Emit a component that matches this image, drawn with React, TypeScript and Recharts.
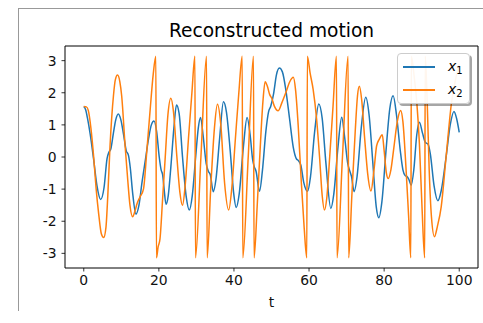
import { LineChart, Line, XAxis, YAxis, ReferenceLine } from "recharts";

// t ticks and angle ticks
const tTicks = [0, 20, 40, 60, 80, 100];
const yTicks = [-3, -2, -1, 0, 1, 2, 3];

// [t, x1]
const x1Trace: [number, number][] = [
  [0, 1.57], [0.5, 1.47], [1.0, 1.2], [1.7, 0.72], [2.6, -0.05], [3.5, -0.88], [4.5, -1.32],
  [5.4, -0.95], [6.2, -0.05], [6.7, 0.15], [7.2, 0.25], [7.9, 0.75], [8.5, 1.15], [9.2, 1.34],
  [9.9, 1.15], [10.6, 0.7], [11.3, 0.2], [11.9, 0.05], [12.4, -0.35], [13.0, -1.1], [13.9, -1.78],
  [14.7, -1.5], [15.5, -0.8], [16.4, -0.1], [17.3, 0.6], [18.0, 1.0], [18.7, 1.12], [19.4, 0.8],
  [20.1, 0.0], [20.6, -0.4], [21.0, -0.55], [21.4, -1.0], [21.9, -1.47], [22.5, -1.2], [23.2, -0.3],
  [24.0, 0.9], [24.7, 1.62], [25.4, 1.35], [26.3, 0.0], [27.3, -1.25], [28.1, -1.65], [28.9, -1.2],
  [29.8, 0.0], [30.5, 0.9], [31.1, 1.23], [31.8, 0.65], [32.6, -0.2], [33.2, -0.45], [33.7, -0.55],
  [34.5, -1.08], [35.2, -0.7], [36.2, 0.6], [37.2, 1.72], [38.0, 1.4], [39.0, 0.2], [39.9, -1.1],
  [40.6, -1.57], [41.4, -1.15], [42.5, 0.3], [43.5, 1.23], [44.3, 0.7], [45.0, -0.1], [45.4, -0.3],
  [45.9, -0.45], [46.8, -1.07], [47.6, -0.4], [48.5, 0.8], [49.2, 1.4], [49.8, 1.58], [50.6, 2.0],
  [51.3, 2.55], [52.1, 2.77], [52.9, 2.65], [53.8, 2.1], [54.8, 1.2], [55.8, 0.3], [56.6, -0.05],
  [57.2, -0.12], [57.8, -0.25], [58.6, -0.8], [59.6, -1.07], [60.4, -0.6], [61.5, 0.8], [62.6, 1.65],
  [63.5, 1.2], [64.5, -0.2], [65.8, -1.6], [66.6, -1.15], [67.7, 0.3], [68.7, 1.24], [69.5, 0.6],
  [70.3, -0.2], [70.9, -0.45], [71.3, -0.6], [72.0, -1.08], [72.8, -0.6], [73.9, 0.9], [75.1, 1.86],
  [76.0, 1.3], [77.0, -0.2], [77.9, -1.55], [78.6, -1.89], [79.4, -1.4], [80.5, 0.2], [81.5, 1.5],
  [82.4, 1.91], [83.3, 1.3], [84.3, 0.2], [85.0, -0.4], [85.6, -0.58], [86.2, -0.62], [86.6, -0.7],
  [87.2, -0.88], [87.9, -0.4], [88.7, 0.7], [89.4, 1.08], [90.2, 0.75], [91.0, 0.45], [91.7, 0.4],
  [92.3, 0.1], [93.3, -0.9], [94.3, -1.36], [95.2, -1.05], [96.5, 0.0], [97.6, 1.0], [98.6, 1.42],
  [99.3, 1.2], [100, 0.77],
];

// [t, x2] — wrapped angle, jumps between +pi and -pi
const x2Trace: [number, number][] = [
  [0, 1.57], [0.7, 1.56], [1.2, 1.45], [1.9, 0.9], [2.6, 0.05], [3.3, -1.0], [4.0, -1.8], [4.7, -2.4],
  [5.3, -2.51], [5.9, -2.2], [6.4, -1.2], [7.0, 0.36], [7.9, 1.9], [8.4, 2.4], [9.0, 2.55], [9.6, 2.35],
  [10.1, 1.9], [11.0, 0.36], [11.7, -0.7], [12.3, -1.5], [13.0, -1.86], [13.6, -1.7], [14.2, -1.45],
  [15.0, -1.24], [15.9, -1.0], [16.8, 0.2], [17.7, 1.5], [18.5, 2.58], [19.2, 3.14], [19.35, -3.14],
  [19.8, -2.8], [20.3, -2.55], [21.0, -1.3], [21.7, 0.0], [22.4, 1.3], [23.2, 1.83], [23.9, 1.4],
  [24.8, 0.0], [25.6, -1.1], [26.3, -1.5], [27.0, -0.9], [27.9, 0.6], [28.8, 2.0], [29.6, 3.14],
  [29.75, -3.14], [31.2, 0.0], [32.7, 3.14], [32.85, -3.14], [33.8, -1.0], [34.8, 0.9], [35.6, 1.64],
  [36.5, 1.0], [37.5, -0.8], [38.6, -1.65], [39.4, -1.0], [40.4, 0.6], [41.3, 2.0], [42.2, 3.14],
  [42.35, -3.14], [43.8, 0.0], [45.2, 3.14], [45.35, -3.14], [46.2, -1.5], [47.0, 0.3], [47.7, 1.7],
  [48.3, 2.34], [48.9, 2.2], [49.5, 1.95], [50.1, 1.82], [50.7, 1.6], [51.8, 1.44], [52.8, 1.7],
  [53.8, 2.0], [54.9, 2.35], [55.8, 2.48], [56.4, 2.1], [57.1, 1.0], [57.9, -0.7], [58.7, -2.2],
  [59.4, -3.14], [59.55, 3.14], [60.3, 2.6], [61.1, 2.1], [62.0, 1.2], [62.8, 0.0], [63.5, -1.2],
  [64.1, -1.65], [64.7, -1.3], [65.5, 0.0], [66.4, 1.6], [67.3, 3.14], [67.45, -3.14], [68.9, 0.0],
  [70.4, 3.14], [70.55, -3.14], [71.4, -1.2], [72.3, 0.8], [72.9, 1.9], [73.4, 2.2], [74.0, 1.8],
  [74.8, 0.6], [75.6, -0.5], [76.5, -1.06], [77.3, -0.4], [78.0, 0.35], [78.7, 0.55], [79.5, 0.69],
  [80.0, 0.2], [80.6, -0.5], [81.1, -0.67], [81.8, -0.4], [82.6, 0.3], [83.5, 1.1], [84.4, 1.45],
  [85.0, 1.1], [85.8, -0.3], [86.5, -1.8], [87.1, -3.14], [87.25, 3.14], [88.0, 2.5], [88.7, 1.7],
  [89.4, 0.4], [90.1, -1.6], [90.8, -3.14], [90.95, 3.14], [91.5, 1.6], [92.0, -0.4], [92.6, -1.86],
  [93.4, -2.48], [94.2, -2.15], [95.2, -1.55], [96.5, 0.0], [97.9, 1.65], [99.0, 2.4], [100, 2.9],
];

const COLORS = {
  x1: "#1f77b4", // mpl blue
  x2: "#ff7f0e", // mpl orange
};

const FONT = "'DejaVu Sans', sans-serif";
const Y_LIM = 3.456;
const T_MIN = -5;
const T_MAX = 105;

const x1Data = x1Trace.map(([t, v]) => ({ t, v }));
const x2Data = x2Trace.map(([t, v]) => ({ t, v }));

function LegendLabel({ sub }: { sub: string }) {
  return (
    <span style={{ fontFamily: FONT, fontSize: 14, color: "#000" }}>
      <span style={{ fontStyle: "italic" }}>x</span>
      <span style={{ fontSize: 10, position: "relative", top: 3 }}>{sub}</span>
    </span>
  );
}

export default function App() {
  const tick = { fontSize: 13.9, fill: "#111", fontFamily: FONT };
  return (
    <div style={{ position: "absolute", left: 0, top: 0, width: 483, height: 323, background: "#fff" }}>
      {/* outer figure frame */}
      <div
        style={{
          position: "absolute", left: 18, top: 8, width: 465, height: 302,
          borderTop: "1px solid #999", borderLeft: "1px solid #999",
        }}
      />

      <div
        style={{
          position: "absolute", left: 65, width: 413, top: 20, textAlign: "center",
          fontFamily: FONT, fontSize: 18.6, color: "#000", lineHeight: "22px",
        }}
      >
        Reconstructed motion
      </div>

      <div style={{ position: "absolute", left: 0, top: 0 }}>
        <LineChart width={483} height={323} margin={{ top: 46, right: 5, bottom: 25, left: 25 }}>
          <XAxis
            type="number" dataKey="t" domain={[T_MIN, T_MAX]} ticks={tTicks}
            allowDataOverflow height={30} tick={tick} tickSize={3.5} tickMargin={4}
            stroke="#000" tickLine={{ stroke: "#000", strokeWidth: 0.8 }}
            label={{ value: "t", position: "insideBottom", offset: -9, style: { fontSize: 13.9, fill: "#111", fontFamily: FONT } }}
          />
          <YAxis
            type="number" domain={[-Y_LIM, Y_LIM]} ticks={yTicks} allowDataOverflow
            width={40} tick={tick} tickSize={3.5} tickMargin={5} stroke="#000"
            tickLine={{ stroke: "#000", strokeWidth: 0.8 }}
          />
          {/* top and right spines */}
          <ReferenceLine y={Y_LIM} stroke="#000" strokeWidth={1} ifOverflow="visible" />
          <ReferenceLine x={T_MAX} stroke="#000" strokeWidth={1} ifOverflow="visible" />
          <Line
            data={x1Data} dataKey="v" type="monotone"
            stroke={COLORS.x1} strokeWidth={1.5} dot={false} isAnimationActive={false}
          />
          <Line
            data={x2Data} dataKey="v" type="monotone"
            stroke={COLORS.x2} strokeWidth={1.5} dot={false} isAnimationActive={false}
          />
        </LineChart>
      </div>

      {/* legend */}
      <div
        style={{
          position: "absolute", left: 397, top: 53, width: 73, height: 51, boxSizing: "border-box",
          background: "rgba(255,255,255,0.93)", border: "1px solid #ccc", borderRadius: 4,
          boxShadow: "2px 2px 0 rgba(0,0,0,0.35)",
        }}
      >
        {[
          { color: COLORS.x1, sub: "1", top: 4 },
          { color: COLORS.x2, sub: "2", top: 27 },
        ].map((row) => (
          <div key={row.sub} style={{ position: "absolute", left: 5, top: row.top, display: "flex", alignItems: "center", height: 18 }}>
            <div style={{ width: 32, height: 1.5, background: row.color }} />
            <div style={{ marginLeft: 13, lineHeight: "18px" }}>
              <LegendLabel sub={row.sub} />
            </div>
          </div>
        ))}
      </div>
    </div>
  );
}
